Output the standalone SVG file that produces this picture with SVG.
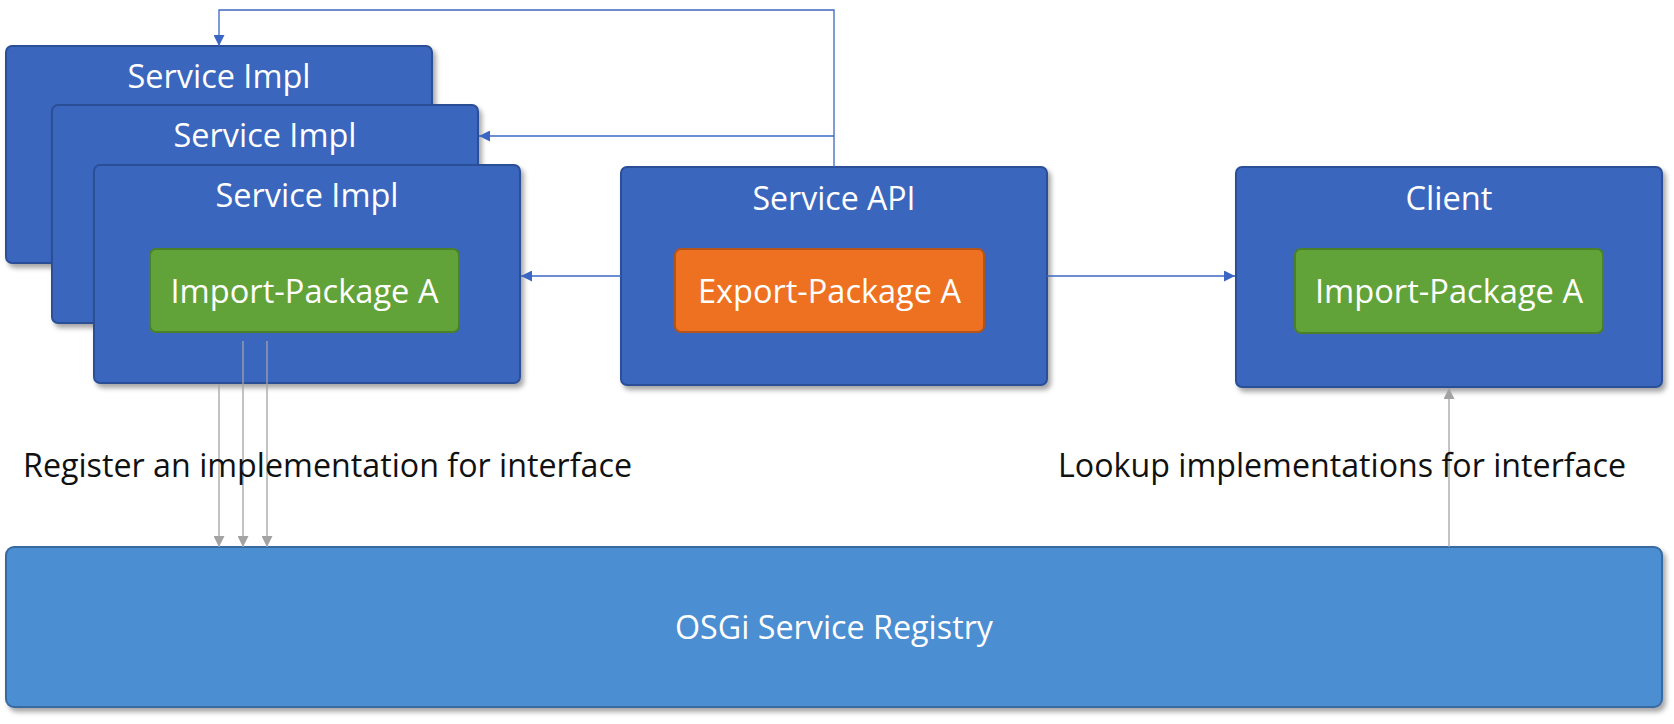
<svg xmlns="http://www.w3.org/2000/svg" width="1674" height="724" viewBox="0 0 1674 724">
<style>
.bundle{fill:#3A66BE;stroke:#2C4F96;stroke-width:2;}
.green{fill:#62A339;stroke:#4A8029;stroke-width:2;}
.orange{fill:#EE7121;stroke:#B4541A;stroke-width:2;}
.registry{fill:#4C8ED2;stroke:#386AA2;stroke-width:2;}
.wt{fill:#FFFFFF;font-family:"Open Sans","Noto Sans",sans-serif;font-size:32px;text-anchor:middle;}
.bt{fill:#111111;font-family:"Open Sans","Noto Sans",sans-serif;font-size:32px;}
.blue{fill:none;stroke:#3B66C4;stroke-width:1.3;}
.gray{fill:none;stroke:#A3A3A3;stroke-width:1.3;}
</style>
<defs>
<filter id="sh" x="-5%" y="-5%" width="115%" height="120%">
<feDropShadow dx="3" dy="4" stdDeviation="2.5" flood-color="#000" flood-opacity="0.35"/>
</filter>
<marker id="ab" markerWidth="12" markerHeight="11" refX="11" refY="5.5" orient="auto" markerUnits="userSpaceOnUse">
<path d="M0,0 L11,5.5 L0,11 Z" fill="#3B66C4"/>
</marker>
<marker id="ag" markerWidth="12" markerHeight="11" refX="11" refY="5.5" orient="auto" markerUnits="userSpaceOnUse">
<path d="M0,0 L11,5.5 L0,11 Z" fill="#A3A3A3"/>
</marker>
</defs>

<g id="impl1">
<rect class="bundle" x="6" y="46" width="426" height="217" rx="6" filter="url(#sh)"/>
<text class="wt" x="219" y="88" textLength="183" lengthAdjust="spacingAndGlyphs">Service Impl</text>
</g>
<g id="impl2">
<rect class="bundle" x="52" y="105" width="426" height="218" rx="6" filter="url(#sh)"/>
<text class="wt" x="265" y="147" textLength="183" lengthAdjust="spacingAndGlyphs">Service Impl</text>
</g>
<g id="impl3">
<rect class="bundle" x="94" y="165" width="426" height="218" rx="6" filter="url(#sh)"/>
<text class="wt" x="307" y="207" textLength="183" lengthAdjust="spacingAndGlyphs">Service Impl</text>
<rect class="green" x="150" y="249" width="309" height="83" rx="6"/>
<text class="wt" x="304.5" y="303" textLength="268" lengthAdjust="spacingAndGlyphs">Import-Package A</text>
</g>
<g id="api">
<rect class="bundle" x="621" y="167" width="426" height="218" rx="6" filter="url(#sh)"/>
<text class="wt" x="834" y="210" textLength="163" lengthAdjust="spacingAndGlyphs">Service API</text>
<rect class="orange" x="675" y="249" width="309" height="83" rx="6"/>
<text class="wt" x="829.5" y="303" textLength="263" lengthAdjust="spacingAndGlyphs">Export-Package A</text>
</g>
<g id="client">
<rect class="bundle" x="1236" y="167" width="426" height="220" rx="6" filter="url(#sh)"/>
<text class="wt" x="1449" y="210" textLength="87" lengthAdjust="spacingAndGlyphs">Client</text>
<rect class="green" x="1295" y="249" width="308" height="84" rx="6"/>
<text class="wt" x="1449" y="303" textLength="268" lengthAdjust="spacingAndGlyphs">Import-Package A</text>
</g>
<g id="registry">
<rect class="registry" x="6" y="547" width="1656" height="160" rx="8" filter="url(#sh)"/>
<text class="wt" x="834" y="639" textLength="318" lengthAdjust="spacingAndGlyphs">OSGi Service Registry</text>
</g>

<g id="connectors">
<path class="blue" d="M834,167 V10 H219 V46" marker-end="url(#ab)"/>
<path class="blue" d="M834,136 H479" marker-end="url(#ab)"/>
<path class="blue" d="M621,276 H521" marker-end="url(#ab)"/>
<path class="blue" d="M1047,276 H1235" marker-end="url(#ab)"/>
<path class="gray" d="M1449,547 V388" marker-end="url(#ag)"/>
<path class="gray" d="M219,384 V547" marker-end="url(#ag)"/>
<path class="gray" d="M243,341 V547" marker-end="url(#ag)"/>
<path class="gray" d="M267,341 V547" marker-end="url(#ag)"/>
</g>

<g id="labels">
<text class="bt" x="23" y="477" textLength="609" lengthAdjust="spacingAndGlyphs">Register an implementation for interface</text>
<text class="bt" x="1058" y="477" textLength="568" lengthAdjust="spacingAndGlyphs">Lookup implementations for interface</text>
</g>
</svg>
